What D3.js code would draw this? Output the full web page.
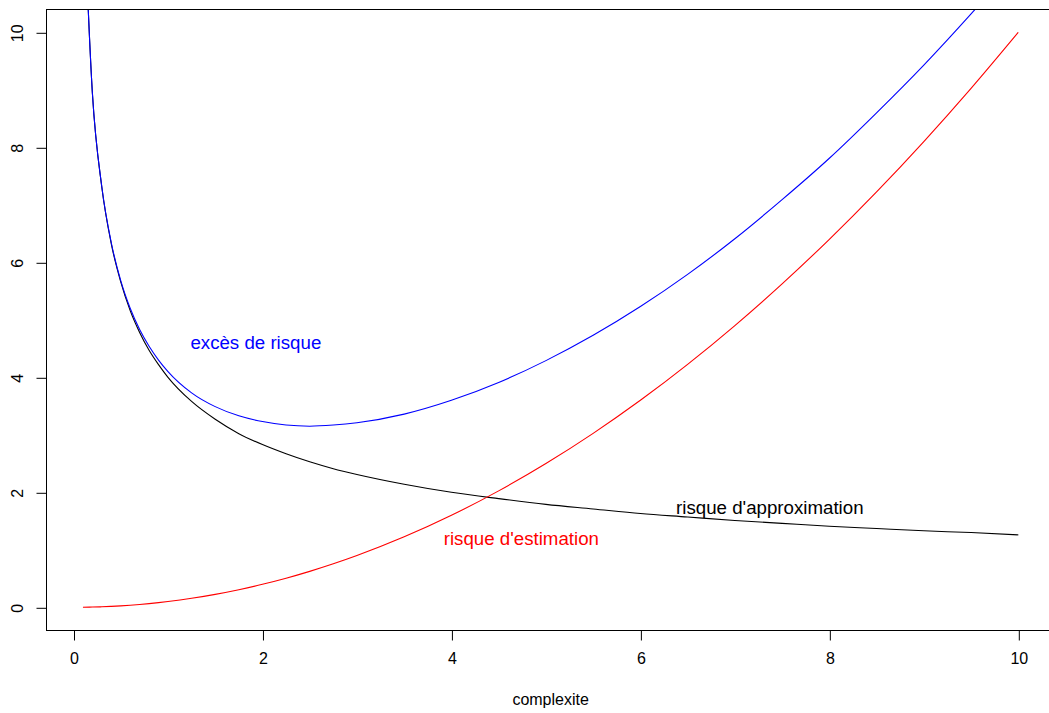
<!DOCTYPE html>
<html>
<head>
<meta charset="utf-8">
<script src="https://cdn.jsdelivr.net/npm/d3@7"></script>
<style>
  html, body { margin: 0; padding: 0; background: #fff; }
  svg { display: block; font-family: "Liberation Sans", Arial, sans-serif; }
</style>
</head>
<body>
<svg id="chart" width="1049" height="713"></svg>
<script>
// complexity values where the risks are sampled
const complexite = [0.1, 0.2, 0.3, 0.4, 0.5, 0.6, 0.7, 0.8, 0.9, 1.0,
  1.25, 1.5, 1.75, 2.0, 2.25, 2.5, 2.75, 3.0, 3.5, 4.0, 4.5, 5.0,
  5.5, 6.0, 6.5, 7.0, 7.5, 8.0, 8.5, 9.0, 9.5, 10.0];

// approximation risk (decreasing with complexity)
const risqueApprox = [12.65, 8.94, 7.30, 6.32, 5.66, 5.16, 4.78, 4.47, 4.22, 4.00,
  3.58, 3.27, 3.02, 2.83, 2.67, 2.53, 2.41, 2.31, 2.14, 2.00, 1.89, 1.79,
  1.71, 1.63, 1.57, 1.51, 1.46, 1.41, 1.37, 1.33, 1.30, 1.26];

// estimation risk (increasing with complexity)
const risqueEstim = [0.001, 0.004, 0.009, 0.016, 0.025, 0.036, 0.049, 0.064, 0.081, 0.100,
  0.156, 0.225, 0.306, 0.400, 0.506, 0.625, 0.756, 0.900, 1.225, 1.600, 2.025, 2.500,
  3.025, 3.600, 4.225, 4.900, 5.625, 6.400, 7.225, 8.100, 9.025, 10.000];

// excess risk (total of both)
const excesRisque = [12.65, 8.94, 7.31, 6.34, 5.68, 5.20, 4.83, 4.54, 4.30, 4.10,
  3.73, 3.49, 3.33, 3.23, 3.17, 3.15, 3.17, 3.21, 3.36, 3.60, 3.91, 4.29,
  4.73, 5.23, 5.79, 6.41, 7.09, 7.81, 8.60, 9.43, 10.32, 11.26];

const xTicks = [0, 2, 4, 6, 8, 10];
const yTicks = [0, 2, 4, 6, 8, 10];

const annotations = [
  { text: "excès de risque", x: 1.93, y: 4.60, color: "#0000FF" },
  { text: "risque d'estimation", x: 4.74, y: 1.19, color: "#FF0000" },
  { text: "risque d'approximation", x: 7.37, y: 1.74, color: "#000000" }
];

const svg = d3.select("#chart");

const x = d3.scaleLinear().domain([0, 10]).range([73.5, 1018.3]);
const y = d3.scaleLinear().domain([0, 10]).range([607.3, 32.3]);

// plotting region (axis limits padded by 4%)
const xLo = x(-0.296), xHi = x(10.396);
const yTop = y(10.4), yBot = y(-0.4);

svg.append("defs").append("clipPath").attr("id", "plotclip")
  .append("rect")
  .attr("x", xLo).attr("y", yTop)
  .attr("width", xHi - xLo).attr("height", yBot - yTop);

const line = (vals) => d3.line()
  .x((d, i) => x(complexite[i]))
  .y(d => y(d))
  .curve(d3.curveMonotoneX)(vals);

const curves = svg.append("g").attr("clip-path", "url(#plotclip)");
[[risqueApprox, "#000000"], [risqueEstim, "#FF0000"], [excesRisque, "#0000FF"]]
  .forEach(([vals, col]) => {
    curves.append("path")
      .attr("d", line(vals))
      .attr("fill", "none")
      .attr("stroke", col)
      .attr("stroke-width", 1.1);
  });

// annotations
svg.append("g").selectAll("text").data(annotations).join("text")
  .attr("x", d => x(d.x))
  .attr("y", d => y(d.y))
  .attr("text-anchor", "middle")
  .attr("dominant-baseline", "central")
  .attr("fill", d => d.color)
  .attr("font-size", "18.7px")
  .text(d => d.text);

// frame
svg.append("rect")
  .attr("x", Math.round(xLo) + 0.5).attr("y", Math.round(yTop) + 0.5)
  .attr("width", xHi - xLo).attr("height", Math.round(yBot) - Math.round(yTop))
  .attr("fill", "none").attr("stroke", "#000").attr("stroke-width", 1);

// x axis
const xAxis = d3.axisBottom(x).tickValues(xTicks).tickSize(10).tickPadding(12)
  .tickFormat(d3.format("d"));
const gx = svg.append("g")
  .attr("transform", `translate(0.5,${Math.round(yBot) + 0.5})`)
  .call(xAxis);
gx.select(".domain").remove();
gx.selectAll("text").attr("font-size", "16px").attr("fill", "#000")
  .attr("font-family", "Liberation Sans, Arial, sans-serif");

// y axis with rotated labels
const yAxis = d3.axisLeft(y).tickValues(yTicks).tickSize(10).tickFormat(d3.format("d"));
const gy = svg.append("g")
  .attr("transform", `translate(${Math.round(xLo) + 0.5},0.5)`)
  .call(yAxis);
gy.select(".domain").remove();
gy.selectAll("text")
  .attr("font-size", "16px").attr("fill", "#000")
  .attr("font-family", "Liberation Sans, Arial, sans-serif")
  .attr("x", null).attr("dy", null)
  .attr("text-anchor", "middle")
  .attr("transform", "translate(-29,0) rotate(-90)")
  .attr("dominant-baseline", "central");

// axis title
svg.append("text")
  .attr("x", (x(-0.296) + x(10.396)) / 2)
  .attr("y", 699)
  .attr("text-anchor", "middle")
  .attr("dominant-baseline", "central")
  .attr("font-size", "16px")
  .attr("fill", "#000")
  .text("complexite");
</script>
</body>
</html>
